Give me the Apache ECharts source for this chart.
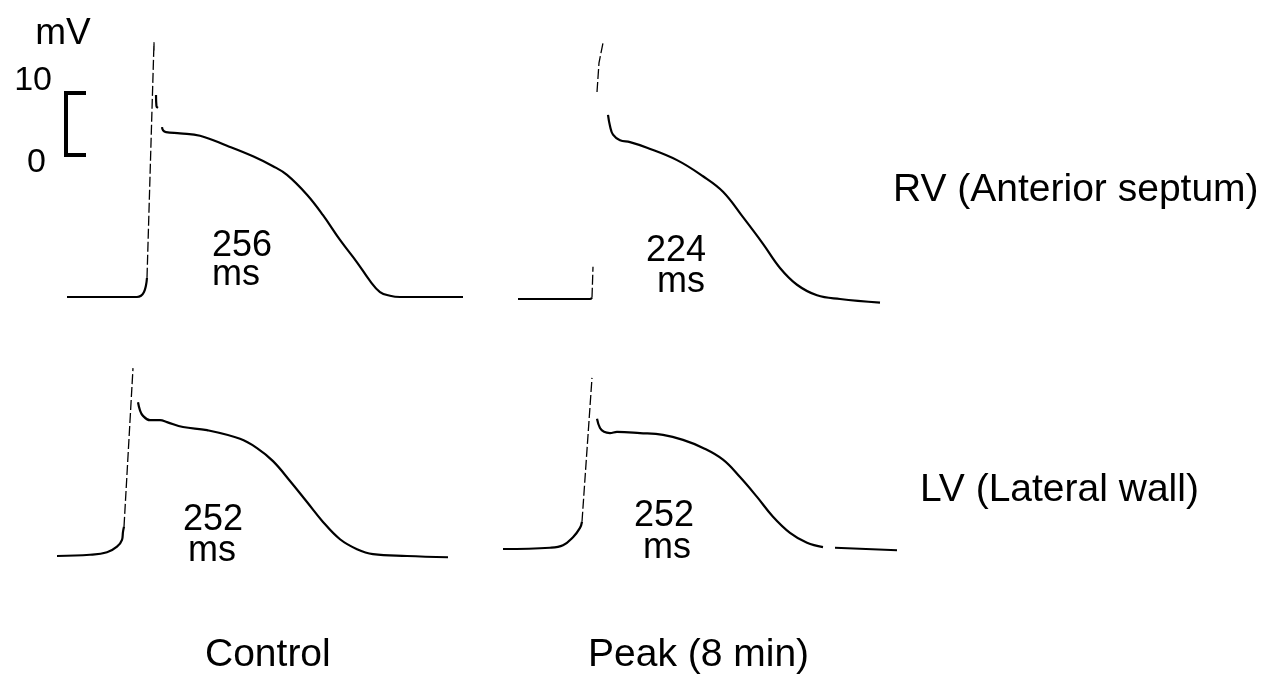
<!DOCTYPE html>
<html>
<head>
<meta charset="utf-8">
<style>
  html, body { margin: 0; padding: 0; background: #fff; }
  #chart { width: 1271px; height: 683px; }
</style>
<script src="https://cdn.jsdelivr.net/npm/echarts/dist/echarts.min.js"></script>
</head>
<body>
<div id="chart"></div>
<script>
// Monophasic action potentials: time in ms from the upstroke, amplitude in mV.
const rowLabels = ['RV (Anterior septum)', 'LV (Lateral wall)'];
const colLabels = ['Control', 'Peak (8 min)'];
const apdMs = [256, 224, 252, 252];          // RV control, RV peak, LV control, LV peak
const apdUnit = 'ms';
const scaleBarMv = [0, 10];
const scaleUnit = 'mV';

// RV, control
const rvControlUpstroke = [[0, 3.1], [7.7, 41.1], [7.7, 39.4]];
const rvControlTrace = [
  [-88, 0], [-50, 0], [-11, 0], [-6.6, 0.2], [-3.3, 0.8], [-1.1, 1.9], [0, 3.1],
  null,
  [9.9, 32.6], [10.4, 30.8], [12.1, 30.5],
  null,
  [16.5, 27.4], [17.6, 26.9], [20.9, 26.6], [36.3, 26.4], [58.3, 26.0], [88, 24.4],
  [116.6, 22.7], [138.6, 21.1], [154, 19.7], [176, 16.5], [193.6, 13.2], [212.3, 9.2],
  [231, 5.6], [245.3, 2.6], [256.3, 0.8], [267.3, 0.2], [278.3, 0], [347.6, 0]
];

// RV, peak (8 min)
const rvPeakUpstroke = [[0, 0.2], [1.1, 5.2], null, [5.5, 33.4], [7.7, 38.1], [12.1, 41.3]];
const rvPeakTrace = [
  [-81.4, 0], [-40, 0], [-2.2, 0], [0, 0.2],
  null,
  [17.6, 29.7], [19.8, 27.9], [23.1, 26.5], [30.8, 25.6], [41.8, 25.3], [60.5, 24.4],
  [93.5, 22.4], [122.1, 19.8], [144.1, 17.3], [166.1, 13.2], [188.1, 8.9], [206.8, 5.0],
  [225.5, 2.3], [247.5, 0.6], [272.8, 0], [316.8, -0.6]
];

// LV, control
const lvControlUpstroke = [[0, 4.7], [9.9, 30.3]];
const lvControlTrace = [
  [-73.7, 0], [-37.4, 0.2], [-18.7, 0.6], [-7.7, 1.5], [-2.2, 2.6], [-1.1, 3.9], [0, 4.7],
  null,
  [15.4, 24.8], [17.6, 23.5], [20.9, 22.6], [28.6, 21.9], [39.6, 21.9], [47.3, 21.6],
  [64.9, 20.8], [91.3, 20.3], [127.6, 18.9], [146.3, 17.4], [163.9, 15.3], [182.6, 12.1],
  [201.3, 8.7], [218.9, 5.5], [237.6, 2.7], [256.3, 1.1], [273.9, 0.3], [311.3, 0], [356.4, -0.2]
];

// LV, peak (8 min)
const lvPeakUpstroke = [[0, 4.4], [11, 27.6]];
const lvPeakTrace = [
  [-86.9, 0], [-35.2, 0.2], [-20.9, 0.6], [-9.9, 1.9], [-2.2, 3.4], [0, 4.4],
  null,
  [16.5, 21.0], [19.8, 19.5], [24.2, 18.9], [30.8, 18.7], [38.5, 18.9], [63.8, 18.7],
  [89.1, 18.4], [111.1, 17.6], [133.1, 16.3], [155.1, 14.4], [173.8, 11.6], [192.5, 8.4],
  [210.1, 5.2], [228.8, 2.6], [247.5, 1.0], [265.1, 0.3],
  null,
  [278.3, 0.2], [346.5, -0.2]
];

// ---- layout ----
const FONT = "'Liberation Sans', Arial, Helvetica, sans-serif";
const MS_PER_PX = 1.1;   // common time scale for all four panels
const PX_PER_MV = 6.2;   // common amplitude scale (matches the 10 mV bar)

// each panel: pixel position of (0 ms, 0 mV) and its plotting box [left, top, right, bottom]
const panels = [
  { trace: rvControlTrace, up: rvControlUpstroke, origin: [147, 297], box: [40, 20, 490, 320],
    apd: { num: [212, 246.5], unit: [212, 275.5] } },
  { trace: rvPeakTrace, up: rvPeakUpstroke, origin: [592, 299], box: [500, 20, 900, 320],
    apd: { num: [646, 251], unit: [657, 282.5] } },
  { trace: lvControlTrace, up: lvControlUpstroke, origin: [124, 556], box: [40, 345, 490, 585],
    apd: { num: [183, 520.5], unit: [188, 551.5] } },
  { trace: lvPeakTrace, up: lvPeakUpstroke, origin: [582, 549], box: [495, 345, 910, 585],
    apd: { num: [634, 516.5], unit: [643, 548.5] } }
];

const grids = [], xAxes = [], yAxes = [], series = [], graphics = [];

panels.forEach((p, i) => {
  const [l, t, r, b] = p.box;
  const [ox, oy] = p.origin;
  grids.push({ left: l, top: t, width: r - l, height: b - t, containLabel: false });
  xAxes.push({ type: 'value', gridIndex: i, show: false,
    min: (l - ox) * MS_PER_PX, max: (r - ox) * MS_PER_PX });
  yAxes.push({ type: 'value', gridIndex: i, show: false,
    min: (oy - b) / PX_PER_MV, max: (oy - t) / PX_PER_MV });
  series.push({
    type: 'line', xAxisIndex: i, yAxisIndex: i, data: p.trace,
    showSymbol: false, smooth: 0.4, connectNulls: false, silent: true,
    lineStyle: { color: '#000', width: 2.2 }
  });
  series.push({
    type: 'line', xAxisIndex: i, yAxisIndex: i, data: p.up,
    showSymbol: false, smooth: false, connectNulls: false, silent: true,
    lineStyle: { color: '#000', width: 1.3, type: [10, 3] }
  });
  graphics.push({ type: 'text', left: p.apd.num[0], top: p.apd.num[1] - 18,
    style: { text: String(apdMs[i]), font: `36px ${FONT}`, fill: '#000' } });
  graphics.push({ type: 'text', left: p.apd.unit[0], top: p.apd.unit[1] - 18,
    style: { text: apdUnit, font: `36px ${FONT}`, fill: '#000' } });
});

// scale bar: 0–10 mV bracket with its own axis
const sb = panels.length;
grids.push({ left: 66, top: 93, width: 20, height: 62 });
xAxes.push({ type: 'value', gridIndex: sb, show: false, min: 0, max: 1 });
yAxes.push({
  type: 'value', gridIndex: sb, min: scaleBarMv[0], max: scaleBarMv[1], interval: scaleBarMv[1],
  name: scaleUnit, nameLocation: 'end', nameGap: 41,
  nameTextStyle: { fontFamily: FONT, fontSize: 37, color: '#000', align: 'center', padding: [0, 6, 0, 0] },
  axisLine: { show: true, lineStyle: { color: '#000', width: 4, cap: 'square' } },
  axisTick: { show: true, inside: true, length: 20, lineStyle: { color: '#000', width: 4 } },
  splitLine: { show: false },
  axisLabel: {
    show: true, margin: 14, color: '#000', fontFamily: FONT, fontSize: 34,
    formatter: v => (v === scaleBarMv[1] ? `{hi|${v}}` : `{lo|${v}}`),
    rich: {
      hi: { fontFamily: FONT, fontSize: 34, color: '#000', padding: [0, 0, 24, 0] },
      lo: { fontFamily: FONT, fontSize: 34, color: '#000', padding: [16, 6, 0, 0] }
    }
  }
});

// row and column captions
const rowPos = [[893, 192], [920, 492]];
rowLabels.forEach((txt, i) => graphics.push({
  type: 'text', left: rowPos[i][0], top: rowPos[i][1] - 21,
  style: { text: txt, font: `39px ${FONT}`, fill: '#000' }
}));
const colPos = [[205, 657], [588, 657]];
colLabels.forEach((txt, i) => graphics.push({
  type: 'text', left: colPos[i][0], top: colPos[i][1] - 21,
  style: { text: txt, font: `39px ${FONT}`, fill: '#000' }
}));

const chart = echarts.init(document.getElementById('chart'), null, { renderer: 'canvas' });
chart.setOption({
  animation: false,
  backgroundColor: '#fff',
  grid: grids,
  xAxis: xAxes,
  yAxis: yAxes,
  series: series,
  graphic: graphics
});
</script>
</body>
</html>
